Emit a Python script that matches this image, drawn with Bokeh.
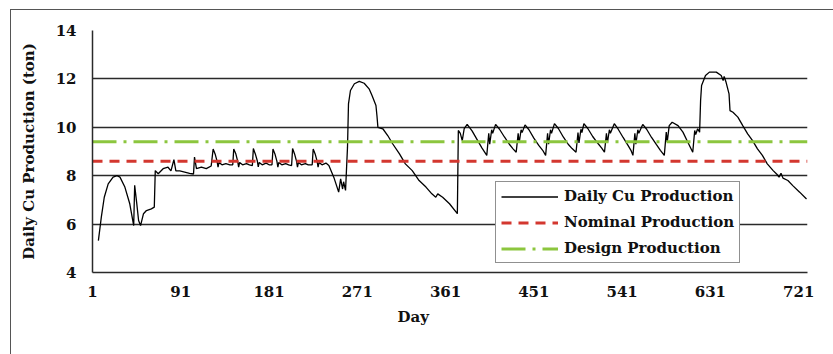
from bokeh.plotting import figure
from bokeh.layouts import column
from bokeh.models import FixedTicker, Range1d, Legend, LegendItem, Title
from bokeh.embed import file_html
from bokeh.resources import INLINE

# ---- data ----
day = [7, 10, 13, 17, 22, 26, 29, 34, 39, 43, 44, 46, 48, 50, 53, 56, 61, 64, 65, 68,
       73, 78, 81, 84, 86, 90, 95, 100, 104, 105, 107, 112, 117, 122,
       124, 126, 128, 129, 130, 133, 137, 141, 144,
       145, 147, 149, 150, 151, 154, 158, 161, 164,
       165, 167, 169, 170, 171, 174, 178, 181, 184,
       185, 187, 189, 190, 191, 194, 198, 201, 204,
       205, 207, 209, 210, 211, 214, 218, 221, 225,
       226, 228, 230, 231, 232, 235, 239, 242, 247, 252, 254, 256, 257, 259,
       261, 262, 264, 268, 273, 278, 283, 286, 290, 291, 292, 297, 302, 307, 314,
       320, 327, 334, 341, 347, 351, 353, 358, 365, 373,
       374, 376, 378, 380, 383, 388, 393, 398,
       403, 405, 406, 408, 409, 412, 416, 421, 426, 430,
       433, 435, 436, 438, 439, 442, 446, 451, 456, 460,
       463, 465, 466, 468, 469, 472, 476, 481, 486, 490,
       494, 496, 497, 499, 500, 502, 506, 511, 516, 520,
       523, 525, 526, 528, 529, 533, 537, 542, 547, 550,
       552, 554, 555, 557, 558, 562, 566, 571, 576, 580,
       584, 586, 587, 589, 592, 598, 603, 608,
       613, 615, 616, 618, 620, 621, 622, 626, 630, 637, 642, 644, 645, 647, 650,
       651, 654, 659, 664, 669, 674, 679, 684, 689, 695, 699, 701, 703, 705, 710,
       715, 722, 729]
daily_cu = [5.32, 6.29, 7.11, 7.66, 7.94, 8.00, 7.94, 7.53, 6.84, 5.94, 7.60, 6.90, 6.15, 5.94, 6.43, 6.56, 6.63, 6.70, 8.21, 8.08,
            8.29, 8.35, 8.20, 8.66, 8.20, 8.20, 8.15, 8.10, 8.07, 8.77, 8.29, 8.35, 8.29, 8.40,
            9.10, 8.90, 8.60, 8.35, 8.55, 8.45, 8.50, 8.45, 8.45,
            9.10, 8.92, 8.60, 8.35, 8.55, 8.45, 8.50, 8.45, 8.42,
            9.12, 8.90, 8.62, 8.36, 8.55, 8.45, 8.52, 8.45, 8.45,
            9.10, 8.90, 8.60, 8.35, 8.55, 8.45, 8.50, 8.45, 8.42,
            9.12, 8.90, 8.60, 8.35, 8.55, 8.45, 8.50, 8.45, 8.45,
            9.10, 8.90, 8.60, 8.35, 8.55, 8.45, 8.52, 8.42, 7.94, 7.32, 7.87, 7.45, 7.75, 7.39,
            9.18, 10.97, 11.52, 11.80, 11.90, 11.82, 11.59, 11.31, 10.90, 10.49, 10.00, 9.94, 9.66, 9.32, 8.90,
            8.49, 8.21, 7.80, 7.53, 7.25, 7.11, 7.25, 7.11, 6.84, 6.43,
            9.87, 9.75, 9.45, 9.95, 10.12, 9.85, 9.50, 9.15,
            8.84, 9.75, 9.30, 9.90, 9.75, 10.12, 9.92, 9.60, 9.30, 9.10,
            8.97, 9.75, 9.35, 9.90, 9.78, 10.10, 9.90, 9.55, 9.25, 9.05,
            8.84, 9.75, 9.30, 9.90, 9.75, 10.15, 9.95, 9.60, 9.30, 9.12,
            8.97, 9.78, 9.35, 9.92, 9.78, 10.15, 9.95, 9.62, 9.35, 9.15,
            8.97, 9.75, 9.35, 9.90, 9.75, 10.15, 9.92, 9.58, 9.25, 9.05,
            8.84, 9.75, 9.30, 9.90, 9.75, 10.12, 9.92, 9.58, 9.28, 9.05,
            8.84, 9.80, 9.40, 10.07, 10.21, 10.07, 9.80, 9.38,
            8.97, 9.87, 9.70, 9.94, 9.80, 11.11, 11.73, 12.14, 12.28, 12.28, 12.14, 11.93, 12.10, 11.86, 11.38,
            10.69, 10.62, 10.42, 10.07, 9.73, 9.45, 9.11, 8.84, 8.49, 8.21, 8.05, 7.94, 8.10, 7.90, 7.80,
            7.59, 7.32, 7.04]

horizon_days = [1, 730]
nominal_production = [8.6, 8.6]
design_production = [9.4, 9.4]

x_ticks = [1, 91, 181, 271, 361, 451, 541, 631, 721]
y_ticks = [4, 6, 8, 10, 12, 14]

FONT = "DejaVu Serif"

p = figure(width=822, height=344, output_backend="svg", toolbar_location=None,
           x_range=Range1d(1, 730), y_range=Range1d(4, 14),
           min_border_left=81, min_border_right=26, min_border_top=20, min_border_bottom=82)
p.outline_line_color = None
p.background_fill_color = "white"
p.border_fill_color = "white"

# grid
p.xgrid.visible = False
p.ygrid.ticker = FixedTicker(ticks=y_ticks)
p.ygrid.grid_line_color = "#2a2a2a"
p.ygrid.grid_line_width = 1.5

# axes
for ax in (p.xaxis[0], p.yaxis[0]):
    ax.major_tick_out = 0
    ax.major_tick_in = 0
    ax.minor_tick_out = 0
    ax.minor_tick_in = 0
    ax.axis_line_color = "#2a2a2a"
    ax.axis_line_width = 1.5
    ax.major_label_text_font = FONT
    ax.major_label_text_font_style = "bold"
    ax.major_label_text_font_size = "15px"
    ax.major_label_text_color = "#111111"

p.xaxis.ticker = FixedTicker(ticks=x_ticks)
p.xaxis.major_label_standoff = 13
p.yaxis.ticker = FixedTicker(ticks=y_ticks)
p.yaxis.major_label_standoff = 16
p.yaxis.axis_label = "Daily Cu Production (ton)"
p.yaxis.axis_label_text_font = FONT
p.yaxis.axis_label_text_font_style = "bold"
p.yaxis.axis_label_text_font_size = "15px"
p.yaxis.axis_label_standoff = 15
p.yaxis.axis_label_text_color = "#111111"

# series
r_cu = p.line(day, daily_cu, line_color="black", line_width=1.3)
r_nom = p.line(horizon_days, nominal_production, line_color="#d3372f", line_width=3, line_dash="10 7")
r_des = p.line(horizon_days, design_production, line_color="#8cc63e", line_width=3, line_dash="24 7 3 7")

# x axis title (offset like the original, left of the plot centre)
p.add_layout(Title(text="Day", align="left", offset=305, standoff=13,
                   text_font=FONT, text_font_style="bold", text_font_size="15px",
                   text_color="#111111"), "below")

legend = Legend(items=[LegendItem(label="Daily Cu Production", renderers=[r_cu]),
                       LegendItem(label="Nominal Production", renderers=[r_nom]),
                       LegendItem(label="Design Production", renderers=[r_des])],
                location=(403, 9), orientation="vertical")
legend.border_line_color = "#222222"
legend.border_line_width = 1.5
legend.background_fill_color = "white"
legend.background_fill_alpha = 1
legend.label_text_font = FONT
legend.label_text_font_style = "bold"
legend.label_text_font_size = "15px"
legend.label_text_color = "#111111"
legend.glyph_width = 57
legend.glyph_height = 17
legend.label_height = 17
legend.spacing = 8
legend.padding = 5
legend.label_standoff = 6
legend.margin = 0
p.add_layout(legend)

# outer chart-area frame (left and top edges visible in the window)
page = column(p, margin=(9, 0, 0, 10),
              styles={"border-left": "1px solid #555555", "border-top": "1px solid #555555"})

open("out.html", "w").write(file_html(page, INLINE))
